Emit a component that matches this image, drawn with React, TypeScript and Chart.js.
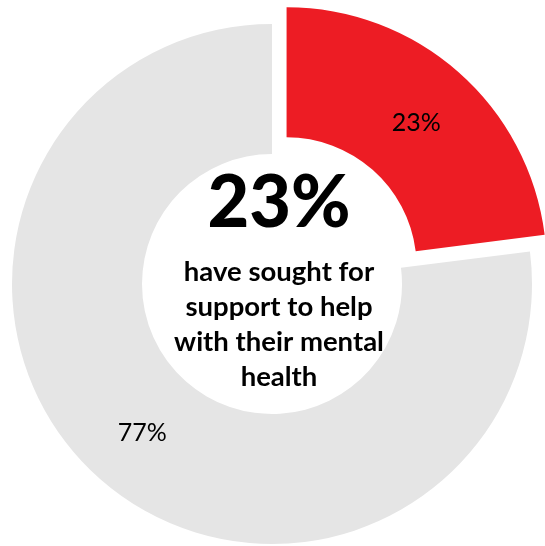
import React, { useEffect, useRef } from 'react';
import { Chart, registerables } from 'chart.js';

Chart.register(...registerables);

const categories = ['Have sought support', 'Have not sought support'];
const values = [23, 77];
const sliceLabels = ['23%', '77%'];
const sliceColors = ['#ED1C24', '#E5E5E5'];
const sliceOffsets = [88, 0];
const headline = '23%';
const captionLines = ['have sought for', 'support to help', 'with their mental', 'health'];

export default function App() {
  const ref = useRef<HTMLCanvasElement>(null);

  useEffect(() => {
    if (!ref.current) return;
    const labelsPlugin = {
      id: 'donutText',
      afterDatasetsDraw(chart: any) {
        const meta = chart.getDatasetMeta(0);
        const ctx = chart.ctx;
        ctx.save();
        ctx.fillStyle = '#000000';
        ctx.textAlign = 'center';
        ctx.textBaseline = 'middle';
        meta.data.forEach((arc: any, i: number) => {
          const p = arc.getProps(['x', 'y', 'startAngle', 'endAngle', 'innerRadius', 'outerRadius']);
          const off = (arc.options.offset || 0) / 4;
          const mid = (p.startAngle + p.endAngle) / 2;
          const r = (p.innerRadius + p.outerRadius) / 2 + off + 1;
          ctx.font = '25px Lato';
          ctx.fillText(sliceLabels[i], p.x + Math.cos(mid) * r, p.y + Math.sin(mid) * r + 2);
        });
        const a = meta.data[0];
        const cx = a.x + 7;
        const cy = a.y;
        ctx.font = '900 72px Lato';
        ctx.fillText(headline, cx, cy - 80);
        ctx.font = 'bold 27.5px Lato';
        captionLines.forEach((line, i) => ctx.fillText(line, cx, cy - 12 + i * 35));
        ctx.restore();
      },
    };

    const chart = new Chart(ref.current, {
      type: 'doughnut',
      data: {
        labels: categories,
        datasets: [
          {
            data: values,
            backgroundColor: sliceColors,
            offset: sliceOffsets,
            borderWidth: 0,
          },
        ],
      },
      options: {
        animation: false,
        responsive: false,
        maintainAspectRatio: false,
        cutout: '50%',
        events: [],
        layout: { padding: 0 },
        plugins: {
          legend: { display: false },
          tooltip: { enabled: false },
        },
      },
      plugins: [labelsPlugin],
    });
    return () => chart.destroy();
  }, []);

  return (
    <div
      style={{
        position: 'fixed',
        left: 0,
        top: 0,
        width: 545,
        height: 546,
        overflow: 'hidden',
        background: '#ffffff',
      }}
    >
      <canvas
        ref={ref}
        width={608}
        height={608}
        style={{ position: 'absolute', left: -32, top: -20, width: 608, height: 608 }}
      />
    </div>
  );
}
